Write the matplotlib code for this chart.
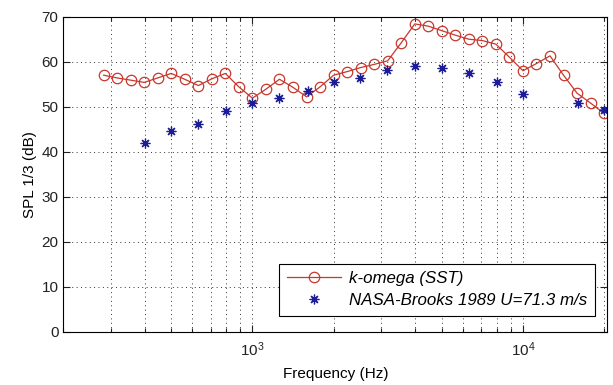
import matplotlib
matplotlib.use("Agg")
import matplotlib.pyplot as plt
import numpy as np
from matplotlib.ticker import LogLocator, NullFormatter

plt.rcParams['font.family'] = ['Liberation Sans', 'DejaVu Sans']
plt.rcParams['mathtext.fontset'] = 'custom'
plt.rcParams['mathtext.rm'] = 'Liberation Sans'

# k-omega (SST) 计算结果, 1/20 十倍频程
sst_freq = [282, 316, 355, 398, 447, 501, 562, 631, 708, 794, 891,
            1000, 1122, 1259, 1413, 1585, 1778, 1995, 2239, 2512, 2818,
            3162, 3548, 3981, 4467, 5012, 5623, 6310, 7079, 7943, 8913,
            10000, 11220, 12589, 14125, 15849, 17783, 19953]
sst_spl = [57.0, 56.4, 55.9, 55.4, 56.4, 57.4, 56.1, 54.7, 56.2, 57.4, 54.4,
           51.9, 53.9, 56.1, 54.3, 52.2, 54.4, 57.0, 57.8, 58.7, 59.4,
           60.2, 64.2, 68.4, 67.9, 66.9, 65.9, 65.0, 64.7, 63.9, 61.0,
           58.0, 59.6, 61.3, 57.0, 53.0, 50.8, 48.5]

# NASA-Brooks 1989 实验值 (1/3 倍频程)
exp_freq = [400, 500, 630, 800, 1000, 1250, 1600, 2000, 2500, 3150,
            4000, 5000, 6300, 8000, 10000, 16000, 20000]
exp_spl = [41.9, 44.6, 46.2, 49.0, 50.9, 51.9, 53.6, 55.4, 56.4, 58.2,
           59.1, 58.5, 57.4, 55.4, 52.8, 50.8, 49.3]

fig = plt.figure(figsize=(6.13, 3.85), dpi=100)
ax = fig.add_axes([0.1033, 0.1384, 0.8874, 0.8182])

ax.semilogx(sst_freq, sst_spl, color="#c8372d", linewidth=0.9, marker='o',
            markersize=7.5, markerfacecolor='none', markeredgecolor="#c8372d",
            markeredgewidth=0.9, label="k-omega (SST)")
ax.semilogx(exp_freq, exp_spl, linestyle='none', marker=(8, 2, 0), markersize=7,
            color="#1c1c96", markeredgewidth=0.9, label="NASA-Brooks 1989 U=71.3 m/s")

ax.set_xlim(200, 20500)
ax.set_ylim(0, 70)
ax.set_yticks(np.arange(0, 71, 10))
ax.xaxis.set_major_locator(LogLocator(base=10, numticks=10))
ax.xaxis.set_minor_locator(LogLocator(base=10, subs=np.arange(2, 10), numticks=20))
ax.xaxis.set_minor_formatter(NullFormatter())

grid_style = dict(color='#333333', linestyle=(0, (1, 3.5)), linewidth=0.7)
ax.grid(True, which='major', axis='both', **grid_style)
ax.grid(True, which='minor', axis='x', **grid_style)

ax.tick_params(which='both', direction='in', top=True, right=True,
               labelsize=11, width=0.8, colors='#222222')
ax.tick_params(which='major', length=5)
ax.tick_params(which='minor', length=3)
ax.tick_params(axis='x', which='major', pad=6)
for s in ax.spines.values():
    s.set_linewidth(0.8)

ax.set_xlabel("Frequency (Hz)", fontsize=11, labelpad=6)
ax.set_ylabel("SPL 1/3 (dB)", fontsize=11, labelpad=3)

leg = ax.legend(loc='lower right', bbox_to_anchor=(0.9935, 0.024), fancybox=False,
                framealpha=1, edgecolor='black', handlelength=3.2, handletextpad=0.5,
                borderpad=0.45, labelspacing=0.4, prop={'style': 'italic', 'size': 12.2})
leg.get_frame().set_linewidth(0.8)

plt.savefig("out.png", dpi=100)
plt.close()
